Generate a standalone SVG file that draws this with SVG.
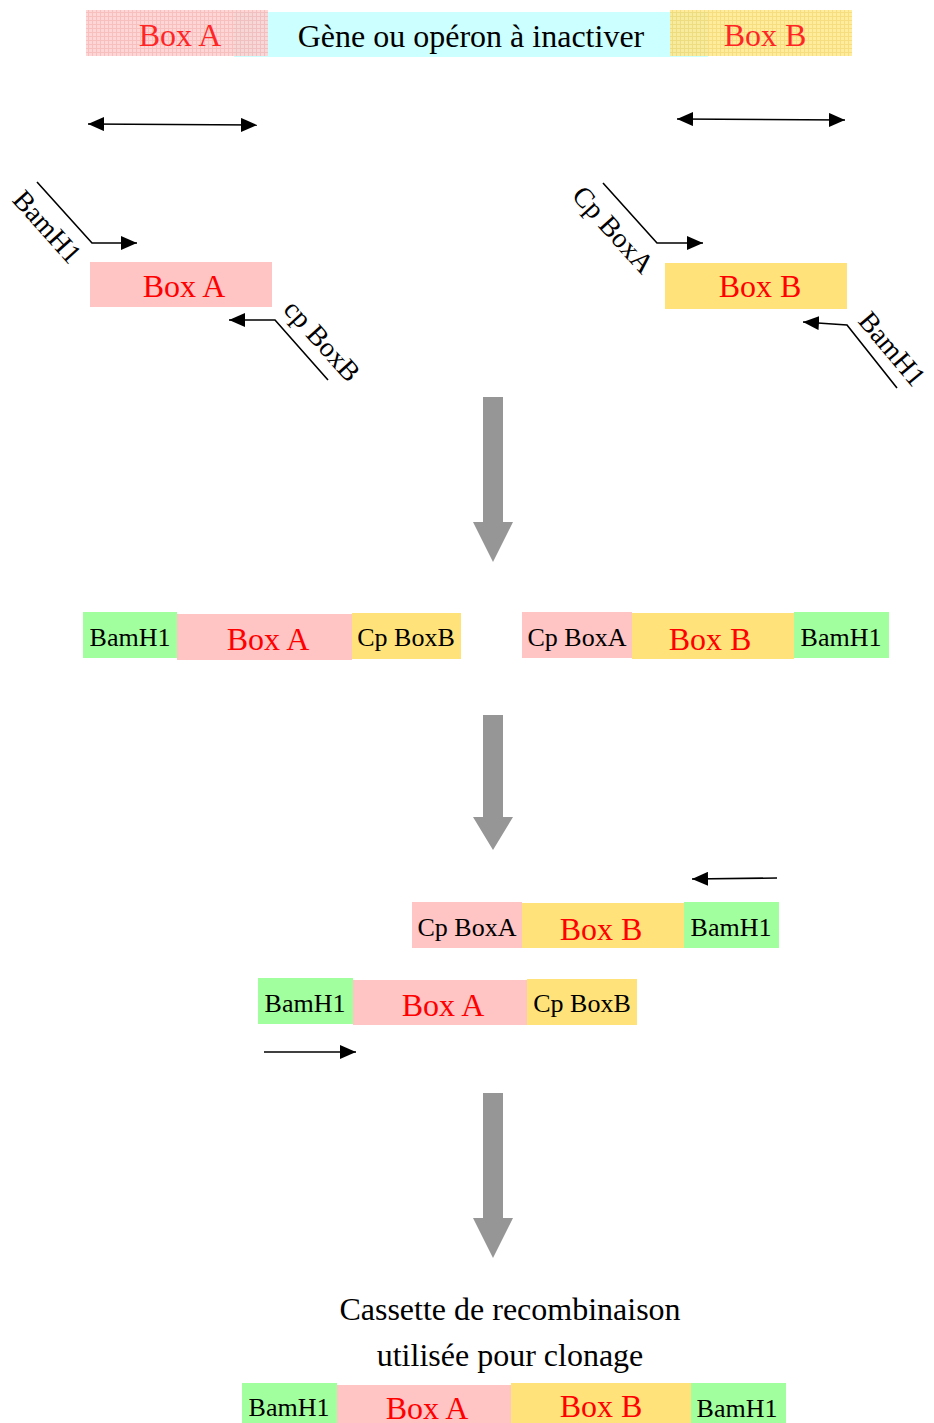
<svg xmlns="http://www.w3.org/2000/svg" width="934" height="1423" viewBox="0 0 934 1423">
  <style>
    text { font-family: "Liberation Serif", "Times New Roman", serif; }
    .lbl { font-size: 26px; fill: #000; text-anchor: middle; }
    .red { font-size: 32px; fill: #ff0000; text-anchor: middle; }
    .big { font-size: 32px; fill: #000; text-anchor: middle; }
    .rot { font-size: 28px; fill: #000; text-anchor: middle; }
    .green { fill: #a2ff9e; }
    .pink { fill: #ffc4c4; }
    .yellow { fill: #ffe37a; }
    .line { stroke: #000; stroke-width: 1.6; fill: none; }
    .step { fill: #969696; }
  </style>
  <defs>
    <marker id="head" viewBox="0 0 16 14" refX="16" refY="7" markerWidth="16" markerHeight="14" markerUnits="userSpaceOnUse" orient="auto-start-reverse">
      <path d="M0,0 L16,7 L0,14 Z" fill="#000"/>
    </marker>
    <pattern id="gridPink" width="4" height="4" patternUnits="userSpaceOnUse">
      <rect width="4" height="4" fill="#ffd0d0"/>
      <path d="M0,0.5 H4 M0.5,0 V4" stroke="#f7b4b4" stroke-width="1"/>
    </pattern>
    <pattern id="gridYellow" width="4" height="4" patternUnits="userSpaceOnUse">
      <rect width="4" height="4" fill="#ffe98c"/>
      <path d="M0,0.5 H4 M0.5,0 V4" stroke="#f5d86a" stroke-width="1"/>
    </pattern>
  </defs>

  <!-- Target gene with flanking regions -->
  <g id="gene">
    <rect x="234" y="12" width="474" height="45" fill="#ccffff"/>
    <text class="big" x="471" y="47">Gène ou opéron à inactiver</text>
  </g>
  <g id="topBoxA" opacity="0.85">
    <rect x="86" y="10" width="182" height="46" fill="url(#gridPink)"/>
    <text class="red" x="180" y="46">Box A</text>
  </g>
  <g id="topBoxB" opacity="0.85">
    <rect x="670" y="10" width="182" height="46" fill="url(#gridYellow)"/>
    <text class="red" x="765" y="46">Box B</text>
  </g>

  <!-- PCR of flanking region A -->
  <g id="ampA">
    <rect class="pink" x="90" y="262" width="182" height="45"/>
    <text class="red" x="184" y="297">Box A</text>
  </g>
  <g id="primerA1">
    <text class="rot" transform="translate(47,227) rotate(48)" y="9">BamH1</text>
  </g>
  <g id="primerA2">
    <text class="rot" transform="translate(322,341) rotate(48)" y="9">cp BoxB</text>
  </g>

  <!-- PCR of flanking region B -->
  <g id="ampB">
    <rect class="yellow" x="665" y="263" width="182" height="46"/>
    <text class="red" x="760" y="297">Box B</text>
  </g>
  <g id="primerB1">
    <text class="rot" transform="translate(613,230) rotate(48)" y="9">Cp BoxA</text>
  </g>
  <g id="primerB2">
    <text class="rot" transform="translate(892,349) rotate(50)" y="9">BamH1</text>
  </g>

  <!-- PCR products -->
  <g id="productA">
    <rect class="green" x="83" y="612" width="94" height="46"/>
    <rect class="pink" x="177" y="614" width="175" height="46"/>
    <rect class="yellow" x="352" y="613" width="109" height="46"/>
    <text class="lbl" x="130" y="646">BamH1</text>
    <text class="red" x="268" y="650">Box A</text>
    <text class="lbl" x="406" y="646">Cp BoxB</text>
  </g>
  <g id="productB">
    <rect class="pink" x="522" y="612" width="110" height="46"/>
    <rect class="yellow" x="632" y="613" width="162" height="46"/>
    <rect class="green" x="794" y="612" width="95" height="46"/>
    <text class="lbl" x="577" y="646">Cp BoxA</text>
    <text class="red" x="710" y="650">Box B</text>
    <text class="lbl" x="841" y="646">BamH1</text>
  </g>

  <!-- Annealed fragments -->
  <g id="hybridB">
    <rect class="pink" x="412" y="902" width="110" height="46"/>
    <rect class="yellow" x="522" y="903" width="162" height="45"/>
    <rect class="green" x="684" y="902" width="95" height="46"/>
    <text class="lbl" x="467" y="936">Cp BoxA</text>
    <text class="red" x="601" y="940">Box B</text>
    <text class="lbl" x="731" y="936">BamH1</text>
  </g>
  <g id="hybridA">
    <rect class="green" x="258" y="978" width="95" height="46"/>
    <rect class="pink" x="353" y="980" width="174" height="45"/>
    <rect class="yellow" x="527" y="979" width="110" height="46"/>
    <text class="lbl" x="305" y="1012">BamH1</text>
    <text class="red" x="443" y="1016">Box A</text>
    <text class="lbl" x="582" y="1012">Cp BoxB</text>
  </g>

  <!-- Final cassette -->
  <g id="caption">
    <text class="big" x="510" y="1320">Cassette de recombinaison</text>
    <text class="big" x="510" y="1366">utilisée pour clonage</text>
  </g>
  <g id="cassette">
    <rect class="green" x="242" y="1383" width="95" height="40"/>
    <rect class="pink" x="337" y="1385" width="174" height="38"/>
    <rect class="yellow" x="511" y="1383" width="180" height="40"/>
    <rect class="green" x="691" y="1383" width="95" height="40"/>
    <text class="lbl" x="289" y="1416">BamH1</text>
    <text class="red" x="427" y="1419">Box A</text>
    <text class="red" x="601" y="1417">Box B</text>
    <text class="lbl" x="737" y="1417">BamH1</text>
  </g>

  <!-- Connectors: primers, extents and process steps -->
  <g id="connectors">
    <line class="line" x1="88" y1="124" x2="257" y2="125" marker-start="url(#head)" marker-end="url(#head)"/>
    <line class="line" x1="677" y1="119" x2="845" y2="120" marker-start="url(#head)" marker-end="url(#head)"/>

    <polyline class="line" points="37,182 92,243 137,243" marker-end="url(#head)"/>
    <polyline class="line" points="328,380 275,320 229,320" marker-end="url(#head)"/>
    <polyline class="line" points="603,183 657,243 703,243" marker-end="url(#head)"/>
    <polyline class="line" points="897,388 847,325 803,322" marker-end="url(#head)"/>

    <line class="line" x1="777" y1="878" x2="692" y2="879" marker-end="url(#head)"/>
    <line class="line" x1="264" y1="1052" x2="356" y2="1052" marker-end="url(#head)"/>

    <polygon class="step" points="483,397 503,397 503,522 513,522 493,562 473,522 483,522"/>
    <polygon class="step" points="483,715 503,715 503,817 513,817 493,850 473,817 483,817"/>
    <polygon class="step" points="483,1093 503,1093 503,1218 513,1218 493,1258 473,1218 483,1218"/>
  </g>
</svg>
